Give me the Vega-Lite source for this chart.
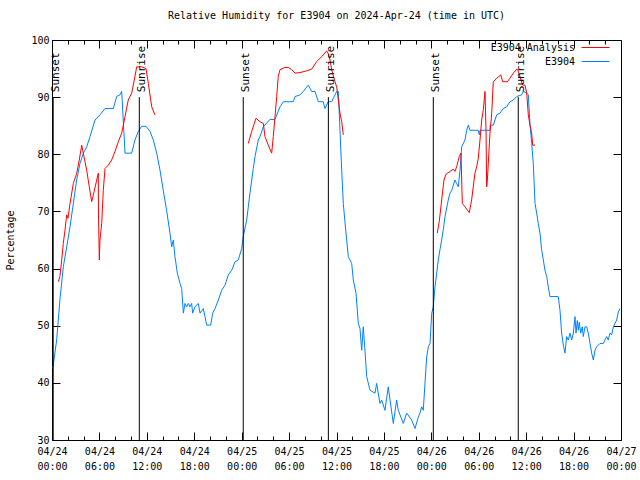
{
  "$schema": "https://vega.github.io/schema/vega-lite/v6.json",
  "width": 569,
  "height": 400,
  "autosize": {"type": "none"},
  "padding": {"left": 52, "top": 40, "right": 19, "bottom": 40},
  "background": "white",
  "title": {"text": "Relative Humidity for E3904 on 2024-Apr-24 (time in UTC)", "font": "DejaVu Sans Mono", "fontSize": 10, "fontWeight": "normal", "anchor": "middle", "offset": 14, "color": "black"},
  "config": {
    "view": {"stroke": "black", "strokeWidth": 1},
    "axis": {"labelFont": "DejaVu Sans Mono", "labelFontSize": 10, "titleFont": "DejaVu Sans Mono", "titleFontSize": 10, "titleFontWeight": "normal", "grid": false, "domain": false, "tickColor": "black", "labelColor": "black", "titleColor": "black", "tickWidth": 1}
  },
  "datasets": {
    "rh": [
      {"series": "E3904", "seg": 0, "t": 0.1, "rh": 42.5},
      {"series": "E3904", "seg": 0, "t": 0.59, "rh": 47.5},
      {"series": "E3904", "seg": 0, "t": 1.0, "rh": 54.5},
      {"series": "E3904", "seg": 0, "t": 1.43, "rh": 60.3},
      {"series": "E3904", "seg": 0, "t": 1.86, "rh": 63.8},
      {"series": "E3904", "seg": 0, "t": 2.28, "rh": 67.3},
      {"series": "E3904", "seg": 0, "t": 2.7, "rh": 71.4},
      {"series": "E3904", "seg": 0, "t": 3.12, "rh": 75.5},
      {"series": "E3904", "seg": 0, "t": 3.54, "rh": 78.4},
      {"series": "E3904", "seg": 0, "t": 3.97, "rh": 80.2},
      {"series": "E3904", "seg": 0, "t": 4.39, "rh": 81.3},
      {"series": "E3904", "seg": 0, "t": 4.81, "rh": 83.1},
      {"series": "E3904", "seg": 0, "t": 5.44, "rh": 86.0},
      {"series": "E3904", "seg": 0, "t": 6.07, "rh": 86.9},
      {"series": "E3904", "seg": 0, "t": 6.7, "rh": 88.0},
      {"series": "E3904", "seg": 0, "t": 7.76, "rh": 88.0},
      {"series": "E3904", "seg": 0, "t": 8.18, "rh": 90.1},
      {"series": "E3904", "seg": 0, "t": 8.6, "rh": 90.4},
      {"series": "E3904", "seg": 0, "t": 8.82, "rh": 91.0},
      {"series": "E3904", "seg": 0, "t": 9.24, "rh": 80.2},
      {"series": "E3904", "seg": 0, "t": 10.08, "rh": 80.2},
      {"series": "E3904", "seg": 0, "t": 10.5, "rh": 82.5},
      {"series": "E3904", "seg": 0, "t": 10.92, "rh": 84.0},
      {"series": "E3904", "seg": 0, "t": 11.35, "rh": 84.9},
      {"series": "E3904", "seg": 0, "t": 11.9, "rh": 84.9},
      {"series": "E3904", "seg": 0, "t": 12.4, "rh": 84.0},
      {"series": "E3904", "seg": 0, "t": 12.82, "rh": 82.5},
      {"series": "E3904", "seg": 0, "t": 13.25, "rh": 80.2},
      {"series": "E3904", "seg": 0, "t": 13.67, "rh": 77.2},
      {"series": "E3904", "seg": 0, "t": 14.08, "rh": 73.7},
      {"series": "E3904", "seg": 0, "t": 14.5, "rh": 70.2},
      {"series": "E3904", "seg": 0, "t": 14.93, "rh": 66.2},
      {"series": "E3904", "seg": 0, "t": 15.14, "rh": 63.8},
      {"series": "E3904", "seg": 0, "t": 15.35, "rh": 65.0},
      {"series": "E3904", "seg": 0, "t": 15.56, "rh": 62.1},
      {"series": "E3904", "seg": 0, "t": 15.86, "rh": 59.2},
      {"series": "E3904", "seg": 0, "t": 16.2, "rh": 57.4},
      {"series": "E3904", "seg": 0, "t": 16.41, "rh": 56.5},
      {"series": "E3904", "seg": 0, "t": 16.62, "rh": 52.2},
      {"series": "E3904", "seg": 0, "t": 16.83, "rh": 53.9},
      {"series": "E3904", "seg": 0, "t": 17.04, "rh": 53.3},
      {"series": "E3904", "seg": 0, "t": 17.25, "rh": 53.9},
      {"series": "E3904", "seg": 0, "t": 17.46, "rh": 53.3},
      {"series": "E3904", "seg": 0, "t": 17.67, "rh": 53.9},
      {"series": "E3904", "seg": 0, "t": 17.8, "rh": 52.2},
      {"series": "E3904", "seg": 0, "t": 18.09, "rh": 53.3},
      {"series": "E3904", "seg": 0, "t": 18.51, "rh": 53.9},
      {"series": "E3904", "seg": 0, "t": 18.73, "rh": 52.2},
      {"series": "E3904", "seg": 0, "t": 19.15, "rh": 53.0},
      {"series": "E3904", "seg": 0, "t": 19.36, "rh": 51.6},
      {"series": "E3904", "seg": 0, "t": 19.57, "rh": 50.1},
      {"series": "E3904", "seg": 0, "t": 20.08, "rh": 50.1},
      {"series": "E3904", "seg": 0, "t": 20.33, "rh": 52.2},
      {"series": "E3904", "seg": 0, "t": 20.63, "rh": 53.0},
      {"series": "E3904", "seg": 0, "t": 21.05, "rh": 54.5},
      {"series": "E3904", "seg": 0, "t": 21.47, "rh": 56.2},
      {"series": "E3904", "seg": 0, "t": 21.89, "rh": 57.1},
      {"series": "E3904", "seg": 0, "t": 22.31, "rh": 58.9},
      {"series": "E3904", "seg": 0, "t": 22.74, "rh": 59.7},
      {"series": "E3904", "seg": 0, "t": 23.16, "rh": 61.2},
      {"series": "E3904", "seg": 0, "t": 23.57, "rh": 61.5},
      {"series": "E3904", "seg": 0, "t": 24.0, "rh": 63.5},
      {"series": "E3904", "seg": 0, "t": 24.2, "rh": 65.6},
      {"series": "E3904", "seg": 0, "t": 24.64, "rh": 68.5},
      {"series": "E3904", "seg": 0, "t": 24.84, "rh": 70.8},
      {"series": "E3904", "seg": 0, "t": 25.05, "rh": 73.2},
      {"series": "E3904", "seg": 0, "t": 25.27, "rh": 75.5},
      {"series": "E3904", "seg": 0, "t": 25.47, "rh": 77.5},
      {"series": "E3904", "seg": 0, "t": 25.69, "rh": 79.6},
      {"series": "E3904", "seg": 0, "t": 26.1, "rh": 82.5},
      {"series": "E3904", "seg": 0, "t": 26.32, "rh": 83.1},
      {"series": "E3904", "seg": 0, "t": 26.74, "rh": 84.8},
      {"series": "E3904", "seg": 0, "t": 27.58, "rh": 86.1},
      {"series": "E3904", "seg": 0, "t": 28.22, "rh": 86.1},
      {"series": "E3904", "seg": 0, "t": 28.85, "rh": 88.3},
      {"series": "E3904", "seg": 0, "t": 29.27, "rh": 89.2},
      {"series": "E3904", "seg": 0, "t": 30.53, "rh": 89.2},
      {"series": "E3904", "seg": 0, "t": 30.75, "rh": 90.1},
      {"series": "E3904", "seg": 0, "t": 31.38, "rh": 90.4},
      {"series": "E3904", "seg": 0, "t": 31.8, "rh": 91.0},
      {"series": "E3904", "seg": 0, "t": 32.43, "rh": 92.1},
      {"series": "E3904", "seg": 0, "t": 32.86, "rh": 91.0},
      {"series": "E3904", "seg": 0, "t": 33.28, "rh": 91.0},
      {"series": "E3904", "seg": 0, "t": 33.7, "rh": 89.2},
      {"series": "E3904", "seg": 0, "t": 34.33, "rh": 89.2},
      {"series": "E3904", "seg": 0, "t": 34.54, "rh": 88.0},
      {"series": "E3904", "seg": 0, "t": 34.96, "rh": 89.2},
      {"series": "E3904", "seg": 0, "t": 35.39, "rh": 89.2},
      {"series": "E3904", "seg": 0, "t": 36.02, "rh": 91.0},
      {"series": "E3904", "seg": 0, "t": 36.23, "rh": 91.0},
      {"series": "E3904", "seg": 0, "t": 36.44, "rh": 84.2},
      {"series": "E3904", "seg": 0, "t": 36.66, "rh": 77.2},
      {"series": "E3904", "seg": 0, "t": 36.86, "rh": 71.4},
      {"series": "E3904", "seg": 0, "t": 37.08, "rh": 68.0},
      {"series": "E3904", "seg": 0, "t": 37.29, "rh": 65.0},
      {"series": "E3904", "seg": 0, "t": 37.49, "rh": 62.1},
      {"series": "E3904", "seg": 0, "t": 37.92, "rh": 60.9},
      {"series": "E3904", "seg": 0, "t": 38.13, "rh": 58.0},
      {"series": "E3904", "seg": 0, "t": 38.47, "rh": 55.7},
      {"series": "E3904", "seg": 0, "t": 38.76, "rh": 50.4},
      {"series": "E3904", "seg": 0, "t": 38.97, "rh": 49.5},
      {"series": "E3904", "seg": 0, "t": 39.19, "rh": 45.7},
      {"series": "E3904", "seg": 0, "t": 39.39, "rh": 49.8},
      {"series": "E3904", "seg": 0, "t": 39.6, "rh": 45.7},
      {"series": "E3904", "seg": 0, "t": 39.82, "rh": 41.1},
      {"series": "E3904", "seg": 0, "t": 40.24, "rh": 38.7},
      {"series": "E3904", "seg": 0, "t": 40.87, "rh": 38.2},
      {"series": "E3904", "seg": 0, "t": 41.08, "rh": 39.9},
      {"series": "E3904", "seg": 0, "t": 41.5, "rh": 36.4},
      {"series": "E3904", "seg": 0, "t": 41.71, "rh": 37.0},
      {"series": "E3904", "seg": 0, "t": 42.13, "rh": 35.2},
      {"series": "E3904", "seg": 0, "t": 42.55, "rh": 39.3},
      {"series": "E3904", "seg": 0, "t": 42.77, "rh": 37.0},
      {"series": "E3904", "seg": 0, "t": 43.19, "rh": 32.9},
      {"series": "E3904", "seg": 0, "t": 43.61, "rh": 37.0},
      {"series": "E3904", "seg": 0, "t": 43.82, "rh": 35.2},
      {"series": "E3904", "seg": 0, "t": 44.45, "rh": 32.9},
      {"series": "E3904", "seg": 0, "t": 44.88, "rh": 34.7},
      {"series": "E3904", "seg": 0, "t": 45.51, "rh": 33.5},
      {"series": "E3904", "seg": 0, "t": 45.93, "rh": 32.0},
      {"series": "E3904", "seg": 0, "t": 46.35, "rh": 34.0},
      {"series": "E3904", "seg": 0, "t": 46.56, "rh": 34.7},
      {"series": "E3904", "seg": 0, "t": 46.78, "rh": 35.8},
      {"series": "E3904", "seg": 0, "t": 46.98, "rh": 35.2},
      {"series": "E3904", "seg": 0, "t": 47.41, "rh": 44.5},
      {"series": "E3904", "seg": 0, "t": 47.62, "rh": 46.3},
      {"series": "E3904", "seg": 0, "t": 47.83, "rh": 46.9},
      {"series": "E3904", "seg": 0, "t": 48.05, "rh": 52.2},
      {"series": "E3904", "seg": 0, "t": 48.25, "rh": 53.3},
      {"series": "E3904", "seg": 0, "t": 48.46, "rh": 56.8},
      {"series": "E3904", "seg": 0, "t": 48.68, "rh": 59.2},
      {"series": "E3904", "seg": 0, "t": 48.88, "rh": 61.5},
      {"series": "E3904", "seg": 0, "t": 49.09, "rh": 63.3},
      {"series": "E3904", "seg": 0, "t": 49.31, "rh": 65.0},
      {"series": "E3904", "seg": 0, "t": 49.51, "rh": 66.8},
      {"series": "E3904", "seg": 0, "t": 49.73, "rh": 69.1},
      {"series": "E3904", "seg": 0, "t": 50.14, "rh": 72.0},
      {"series": "E3904", "seg": 0, "t": 50.36, "rh": 73.2},
      {"series": "E3904", "seg": 0, "t": 50.58, "rh": 73.7},
      {"series": "E3904", "seg": 0, "t": 50.99, "rh": 75.5},
      {"series": "E3904", "seg": 0, "t": 51.2, "rh": 74.9},
      {"series": "E3904", "seg": 0, "t": 51.41, "rh": 74.3},
      {"series": "E3904", "seg": 0, "t": 51.63, "rh": 77.2},
      {"series": "E3904", "seg": 0, "t": 51.84, "rh": 81.3},
      {"series": "E3904", "seg": 0, "t": 52.26, "rh": 82.5},
      {"series": "E3904", "seg": 0, "t": 52.47, "rh": 84.2},
      {"series": "E3904", "seg": 0, "t": 52.68, "rh": 85.1},
      {"series": "E3904", "seg": 0, "t": 52.89, "rh": 84.2},
      {"series": "E3904", "seg": 0, "t": 53.94, "rh": 84.2},
      {"series": "E3904", "seg": 0, "t": 54.07, "rh": 83.4},
      {"series": "E3904", "seg": 0, "t": 54.16, "rh": 84.2},
      {"series": "E3904", "seg": 0, "t": 55.42, "rh": 84.2},
      {"series": "E3904", "seg": 0, "t": 55.45, "rh": 85.1},
      {"series": "E3904", "seg": 0, "t": 55.84, "rh": 85.1},
      {"series": "E3904", "seg": 0, "t": 56.27, "rh": 86.9},
      {"series": "E3904", "seg": 0, "t": 56.69, "rh": 87.2},
      {"series": "E3904", "seg": 0, "t": 57.1, "rh": 88.0},
      {"series": "E3904", "seg": 0, "t": 57.53, "rh": 88.3},
      {"series": "E3904", "seg": 0, "t": 57.95, "rh": 89.2},
      {"series": "E3904", "seg": 0, "t": 58.37, "rh": 89.5},
      {"series": "E3904", "seg": 0, "t": 58.8, "rh": 90.1},
      {"series": "E3904", "seg": 0, "t": 59.43, "rh": 90.4},
      {"series": "E3904", "seg": 0, "t": 59.64, "rh": 91.0},
      {"series": "E3904", "seg": 0, "t": 60.07, "rh": 90.7},
      {"series": "E3904", "seg": 0, "t": 60.27, "rh": 90.4},
      {"series": "E3904", "seg": 0, "t": 60.48, "rh": 85.4},
      {"series": "E3904", "seg": 0, "t": 60.7, "rh": 81.9},
      {"series": "E3904", "seg": 0, "t": 60.9, "rh": 78.4},
      {"series": "E3904", "seg": 0, "t": 61.12, "rh": 71.4},
      {"series": "E3904", "seg": 0, "t": 61.33, "rh": 69.7},
      {"series": "E3904", "seg": 0, "t": 61.53, "rh": 67.9},
      {"series": "E3904", "seg": 0, "t": 61.75, "rh": 66.2},
      {"series": "E3904", "seg": 0, "t": 61.96, "rh": 63.3},
      {"series": "E3904", "seg": 0, "t": 62.17, "rh": 61.5},
      {"series": "E3904", "seg": 0, "t": 62.38, "rh": 59.7},
      {"series": "E3904", "seg": 0, "t": 62.6, "rh": 58.6},
      {"series": "E3904", "seg": 0, "t": 62.8, "rh": 56.8},
      {"series": "E3904", "seg": 0, "t": 63.01, "rh": 55.1},
      {"series": "E3904", "seg": 0, "t": 64.06, "rh": 55.1},
      {"series": "E3904", "seg": 0, "t": 64.28, "rh": 52.7},
      {"series": "E3904", "seg": 0, "t": 64.49, "rh": 48.7},
      {"series": "E3904", "seg": 0, "t": 64.7, "rh": 46.6},
      {"series": "E3904", "seg": 0, "t": 64.91, "rh": 45.2},
      {"series": "E3904", "seg": 0, "t": 65.12, "rh": 48.1},
      {"series": "E3904", "seg": 0, "t": 65.33, "rh": 47.5},
      {"series": "E3904", "seg": 0, "t": 65.55, "rh": 48.7},
      {"series": "E3904", "seg": 0, "t": 65.76, "rh": 47.5},
      {"series": "E3904", "seg": 0, "t": 65.97, "rh": 48.7},
      {"series": "E3904", "seg": 0, "t": 66.18, "rh": 51.6},
      {"series": "E3904", "seg": 0, "t": 66.31, "rh": 48.7},
      {"series": "E3904", "seg": 0, "t": 66.47, "rh": 50.9},
      {"series": "E3904", "seg": 0, "t": 66.6, "rh": 49.2},
      {"series": "E3904", "seg": 0, "t": 66.72, "rh": 50.6},
      {"series": "E3904", "seg": 0, "t": 66.9, "rh": 48.7},
      {"series": "E3904", "seg": 0, "t": 67.1, "rh": 49.8},
      {"series": "E3904", "seg": 0, "t": 67.23, "rh": 48.1},
      {"series": "E3904", "seg": 0, "t": 67.44, "rh": 49.8},
      {"series": "E3904", "seg": 0, "t": 67.66, "rh": 49.8},
      {"series": "E3904", "seg": 0, "t": 67.86, "rh": 48.7},
      {"series": "E3904", "seg": 0, "t": 68.08, "rh": 46.9},
      {"series": "E3904", "seg": 0, "t": 68.29, "rh": 45.2},
      {"series": "E3904", "seg": 0, "t": 68.5, "rh": 44.0},
      {"series": "E3904", "seg": 0, "t": 68.71, "rh": 45.7},
      {"series": "E3904", "seg": 0, "t": 68.92, "rh": 46.3},
      {"series": "E3904", "seg": 0, "t": 69.34, "rh": 46.9},
      {"series": "E3904", "seg": 0, "t": 69.76, "rh": 46.9},
      {"series": "E3904", "seg": 0, "t": 70.18, "rh": 48.1},
      {"series": "E3904", "seg": 0, "t": 70.39, "rh": 47.5},
      {"series": "E3904", "seg": 0, "t": 70.6, "rh": 48.7},
      {"series": "E3904", "seg": 0, "t": 70.82, "rh": 48.4},
      {"series": "E3904", "seg": 0, "t": 71.03, "rh": 49.8},
      {"series": "E3904", "seg": 0, "t": 71.45, "rh": 51.0},
      {"series": "E3904", "seg": 0, "t": 71.66, "rh": 52.4},
      {"series": "E3904", "seg": 0, "t": 71.87, "rh": 53.0},
      {"series": "E3904 Analysis", "seg": 1, "t": 0.8, "rh": 57.7},
      {"series": "E3904 Analysis", "seg": 1, "t": 1.0, "rh": 58.6},
      {"series": "E3904 Analysis", "seg": 1, "t": 1.23, "rh": 61.5},
      {"series": "E3904 Analysis", "seg": 1, "t": 1.43, "rh": 64.4},
      {"series": "E3904 Analysis", "seg": 1, "t": 1.64, "rh": 66.7},
      {"series": "E3904 Analysis", "seg": 1, "t": 1.86, "rh": 69.4},
      {"series": "E3904 Analysis", "seg": 1, "t": 2.02, "rh": 68.8},
      {"series": "E3904 Analysis", "seg": 1, "t": 2.28, "rh": 71.4},
      {"series": "E3904 Analysis", "seg": 1, "t": 2.7, "rh": 74.9},
      {"series": "E3904 Analysis", "seg": 1, "t": 3.13, "rh": 76.7},
      {"series": "E3904 Analysis", "seg": 1, "t": 3.45, "rh": 79.0},
      {"series": "E3904 Analysis", "seg": 1, "t": 3.76, "rh": 81.6},
      {"series": "E3904 Analysis", "seg": 1, "t": 3.96, "rh": 80.2},
      {"series": "E3904 Analysis", "seg": 1, "t": 4.39, "rh": 77.2},
      {"series": "E3904 Analysis", "seg": 1, "t": 4.72, "rh": 74.3},
      {"series": "E3904 Analysis", "seg": 1, "t": 5.02, "rh": 71.7},
      {"series": "E3904 Analysis", "seg": 1, "t": 5.23, "rh": 72.9},
      {"series": "E3904 Analysis", "seg": 1, "t": 5.66, "rh": 75.5},
      {"series": "E3904 Analysis", "seg": 1, "t": 5.86, "rh": 76.7},
      {"series": "E3904 Analysis", "seg": 1, "t": 5.88, "rh": 69.7},
      {"series": "E3904 Analysis", "seg": 1, "t": 5.99, "rh": 61.5},
      {"series": "E3904 Analysis", "seg": 1, "t": 6.07, "rh": 65.0},
      {"series": "E3904 Analysis", "seg": 1, "t": 6.29, "rh": 67.9},
      {"series": "E3904 Analysis", "seg": 1, "t": 6.49, "rh": 73.7},
      {"series": "E3904 Analysis", "seg": 1, "t": 6.71, "rh": 77.5},
      {"series": "E3904 Analysis", "seg": 1, "t": 7.12, "rh": 78.1},
      {"series": "E3904 Analysis", "seg": 1, "t": 7.55, "rh": 79.0},
      {"series": "E3904 Analysis", "seg": 1, "t": 7.97, "rh": 80.5},
      {"series": "E3904 Analysis", "seg": 1, "t": 8.39, "rh": 82.2},
      {"series": "E3904 Analysis", "seg": 1, "t": 8.82, "rh": 83.7},
      {"series": "E3904 Analysis", "seg": 1, "t": 9.24, "rh": 86.6},
      {"series": "E3904 Analysis", "seg": 1, "t": 9.65, "rh": 89.5},
      {"series": "E3904 Analysis", "seg": 1, "t": 10.08, "rh": 90.7},
      {"series": "E3904 Analysis", "seg": 1, "t": 10.41, "rh": 93.0},
      {"series": "E3904 Analysis", "seg": 1, "t": 10.72, "rh": 95.3},
      {"series": "E3904 Analysis", "seg": 1, "t": 11.35, "rh": 95.3},
      {"series": "E3904 Analysis", "seg": 1, "t": 11.89, "rh": 95.0},
      {"series": "E3904 Analysis", "seg": 1, "t": 12.19, "rh": 92.4},
      {"series": "E3904 Analysis", "seg": 1, "t": 12.62, "rh": 88.3},
      {"series": "E3904 Analysis", "seg": 1, "t": 13.03, "rh": 86.9},
      {"series": "E3904 Analysis", "seg": 2, "t": 24.84, "rh": 81.9},
      {"series": "E3904 Analysis", "seg": 2, "t": 25.27, "rh": 84.0},
      {"series": "E3904 Analysis", "seg": 2, "t": 25.81, "rh": 86.3},
      {"series": "E3904 Analysis", "seg": 2, "t": 26.32, "rh": 85.7},
      {"series": "E3904 Analysis", "seg": 2, "t": 26.74, "rh": 85.4},
      {"series": "E3904 Analysis", "seg": 2, "t": 26.95, "rh": 83.1},
      {"series": "E3904 Analysis", "seg": 2, "t": 27.37, "rh": 81.6},
      {"series": "E3904 Analysis", "seg": 2, "t": 27.8, "rh": 80.2},
      {"series": "E3904 Analysis", "seg": 2, "t": 28.0, "rh": 83.1},
      {"series": "E3904 Analysis", "seg": 2, "t": 28.22, "rh": 86.6},
      {"series": "E3904 Analysis", "seg": 2, "t": 28.43, "rh": 90.1},
      {"series": "E3904 Analysis", "seg": 2, "t": 28.63, "rh": 93.6},
      {"series": "E3904 Analysis", "seg": 2, "t": 28.85, "rh": 94.8},
      {"series": "E3904 Analysis", "seg": 2, "t": 29.48, "rh": 95.2},
      {"series": "E3904 Analysis", "seg": 2, "t": 29.9, "rh": 95.2},
      {"series": "E3904 Analysis", "seg": 2, "t": 30.33, "rh": 94.8},
      {"series": "E3904 Analysis", "seg": 2, "t": 30.75, "rh": 94.2},
      {"series": "E3904 Analysis", "seg": 2, "t": 31.38, "rh": 94.3},
      {"series": "E3904 Analysis", "seg": 2, "t": 32.23, "rh": 94.6},
      {"series": "E3904 Analysis", "seg": 2, "t": 32.86, "rh": 94.9},
      {"series": "E3904 Analysis", "seg": 2, "t": 33.49, "rh": 96.2},
      {"series": "E3904 Analysis", "seg": 2, "t": 34.13, "rh": 97.1},
      {"series": "E3904 Analysis", "seg": 2, "t": 34.76, "rh": 98.1},
      {"series": "E3904 Analysis", "seg": 2, "t": 34.96, "rh": 97.6},
      {"series": "E3904 Analysis", "seg": 2, "t": 35.18, "rh": 96.5},
      {"series": "E3904 Analysis", "seg": 2, "t": 35.39, "rh": 94.8},
      {"series": "E3904 Analysis", "seg": 2, "t": 35.81, "rh": 92.7},
      {"series": "E3904 Analysis", "seg": 2, "t": 36.02, "rh": 91.8},
      {"series": "E3904 Analysis", "seg": 2, "t": 36.23, "rh": 89.5},
      {"series": "E3904 Analysis", "seg": 2, "t": 36.44, "rh": 87.2},
      {"series": "E3904 Analysis", "seg": 2, "t": 36.66, "rh": 85.7},
      {"series": "E3904 Analysis", "seg": 2, "t": 36.86, "rh": 83.4},
      {"series": "E3904 Analysis", "seg": 3, "t": 48.75, "rh": 66.2},
      {"series": "E3904 Analysis", "seg": 3, "t": 49.0, "rh": 68.2},
      {"series": "E3904 Analysis", "seg": 3, "t": 49.31, "rh": 72.0},
      {"series": "E3904 Analysis", "seg": 3, "t": 49.6, "rh": 75.5},
      {"series": "E3904 Analysis", "seg": 3, "t": 49.85, "rh": 76.5},
      {"series": "E3904 Analysis", "seg": 3, "t": 50.36, "rh": 77.0},
      {"series": "E3904 Analysis", "seg": 3, "t": 50.78, "rh": 77.4},
      {"series": "E3904 Analysis", "seg": 3, "t": 50.99, "rh": 77.0},
      {"series": "E3904 Analysis", "seg": 3, "t": 51.2, "rh": 77.8},
      {"series": "E3904 Analysis", "seg": 3, "t": 51.54, "rh": 79.6},
      {"series": "E3904 Analysis", "seg": 3, "t": 51.75, "rh": 80.2},
      {"series": "E3904 Analysis", "seg": 3, "t": 51.92, "rh": 71.4},
      {"series": "E3904 Analysis", "seg": 3, "t": 52.26, "rh": 70.8},
      {"series": "E3904 Analysis", "seg": 3, "t": 52.8, "rh": 69.8},
      {"series": "E3904 Analysis", "seg": 3, "t": 53.1, "rh": 72.0},
      {"series": "E3904 Analysis", "seg": 3, "t": 53.52, "rh": 76.7},
      {"series": "E3904 Analysis", "seg": 3, "t": 53.74, "rh": 77.8},
      {"series": "E3904 Analysis", "seg": 3, "t": 53.94, "rh": 79.3},
      {"series": "E3904 Analysis", "seg": 3, "t": 54.16, "rh": 82.5},
      {"series": "E3904 Analysis", "seg": 3, "t": 54.37, "rh": 86.0},
      {"series": "E3904 Analysis", "seg": 3, "t": 54.58, "rh": 87.8},
      {"series": "E3904 Analysis", "seg": 3, "t": 54.79, "rh": 91.0},
      {"series": "E3904 Analysis", "seg": 3, "t": 54.92, "rh": 84.2},
      {"series": "E3904 Analysis", "seg": 3, "t": 55.0, "rh": 74.3},
      {"series": "E3904 Analysis", "seg": 3, "t": 55.08, "rh": 75.3},
      {"series": "E3904 Analysis", "seg": 3, "t": 55.21, "rh": 78.4},
      {"series": "E3904 Analysis", "seg": 3, "t": 55.42, "rh": 83.7},
      {"series": "E3904 Analysis", "seg": 3, "t": 55.64, "rh": 87.2},
      {"series": "E3904 Analysis", "seg": 3, "t": 55.84, "rh": 92.7},
      {"series": "E3904 Analysis", "seg": 3, "t": 56.27, "rh": 93.3},
      {"series": "E3904 Analysis", "seg": 3, "t": 56.78, "rh": 93.9},
      {"series": "E3904 Analysis", "seg": 3, "t": 57.03, "rh": 92.7},
      {"series": "E3904 Analysis", "seg": 3, "t": 57.61, "rh": 92.7},
      {"series": "E3904 Analysis", "seg": 3, "t": 57.95, "rh": 93.3},
      {"series": "E3904 Analysis", "seg": 3, "t": 58.37, "rh": 94.2},
      {"series": "E3904 Analysis", "seg": 3, "t": 58.8, "rh": 94.9},
      {"series": "E3904 Analysis", "seg": 3, "t": 58.93, "rh": 94.8},
      {"series": "E3904 Analysis", "seg": 3, "t": 59.22, "rh": 93.6},
      {"series": "E3904 Analysis", "seg": 3, "t": 59.56, "rh": 92.1},
      {"series": "E3904 Analysis", "seg": 3, "t": 59.85, "rh": 92.1},
      {"series": "E3904 Analysis", "seg": 3, "t": 60.07, "rh": 90.7},
      {"series": "E3904 Analysis", "seg": 3, "t": 60.27, "rh": 86.9},
      {"series": "E3904 Analysis", "seg": 3, "t": 60.48, "rh": 85.1},
      {"series": "E3904 Analysis", "seg": 3, "t": 60.7, "rh": 83.7},
      {"series": "E3904 Analysis", "seg": 3, "t": 60.82, "rh": 81.6},
      {"series": "E3904 Analysis", "seg": 3, "t": 61.12, "rh": 81.6}
    ],
    "events": [
      {"t": 0.15, "label": "Sunset"},
      {"t": 11.05, "label": "Sunrise"},
      {"t": 24.2, "label": "Sunset"},
      {"t": 34.97, "label": "Sunrise"},
      {"t": 48.25, "label": "Sunset"},
      {"t": 59.0, "label": "Sunrise"}
    ]
  },
  "resolve": {"axis": {"x": "independent", "y": "independent"}},
  "layer": [
    {
      "data": {"name": "rh"},
      "mark": {"type": "line", "strokeWidth": 1},
      "encoding": {
        "x": {"field": "t", "type": "quantitative", "scale": {"domain": [0, 72], "nice": false, "zero": false},
          "axis": {"orient": "bottom", "title": null, "values": [0, 6, 12, 18, 24, 30, 36, 42, 48, 54, 60, 66, 72], "ticks": false, "labelPadding": 6, "labelFlush": false, "labelOverlap": false, "labelLineHeight": 15, "labelBaseline": "top",
            "labelExpr": "['04/' + (24 + floor(datum.value / 24)), (datum.value % 24 < 10 ? '0' : '') + (datum.value % 24) + ':00']"}},
        "y": {"field": "rh", "type": "quantitative", "scale": {"domain": [30, 100], "nice": false, "zero": false},
          "axis": {"orient": "left", "title": "Percentage", "values": [30, 40, 50, 60, 70, 80, 90, 100], "ticks": false, "labelPadding": 3, "labelFlush": false, "labelOverlap": false, "titleAngle": -90, "titleAlign": "center", "titleBaseline": "middle", "titleX": -42, "titleY": 200}},
        "color": {"field": "series", "type": "nominal", "scale": {"domain": ["E3904 Analysis", "E3904"], "range": ["#ff0000", "#0080ff"]},
          "legend": {"orient": "none", "legendX": 538, "legendY": 2, "title": null, "padding": 0, "symbolType": "M-3,0H3", "symbolSize": 87, "symbolStrokeWidth": 1, "symbolFillColor": "transparent", "labelAlign": "right", "labelOffset": -26, "labelFont": "DejaVu Sans Mono", "labelFontSize": 10, "labelColor": "black", "rowPadding": 3}},
        "detail": {"field": "seg", "type": "nominal"}
      }
    },
    {
      "data": {"name": "events"},
      "mark": {"type": "rule", "color": "black", "strokeWidth": 1},
      "encoding": {
        "x": {"field": "t", "type": "quantitative", "axis": {"orient": "bottom", "title": null, "labels": false, "values": [0, 6, 12, 18, 24, 30, 36, 42, 48, 54, 60, 66, 72], "tickSize": 8, "offset": -8}},
        "y": {"datum": 30, "type": "quantitative", "axis": {"orient": "left", "title": null, "labels": false, "values": [30, 40, 50, 60, 70, 80, 90, 100], "tickSize": 8, "offset": -8}},
        "y2": {"datum": 90}
      }
    },
    {
      "data": {"name": "events"},
      "mark": {"type": "text", "angle": 270, "align": "left", "baseline": "alphabetic", "dx": 5, "dy": 6, "font": "DejaVu Sans Mono", "fontSize": 11, "color": "black"},
      "encoding": {
        "x": {"field": "t", "type": "quantitative", "axis": {"orient": "bottom", "title": null, "labels": false, "values": [2, 4, 8, 10, 14, 16, 20, 22, 26, 28, 32, 34, 38, 40, 44, 46, 50, 52, 56, 58, 62, 64, 68, 70], "tickSize": 4, "offset": -4}},
        "y": {"datum": 90, "type": "quantitative", "axis": {"orient": "right", "title": null, "labels": false, "values": [30, 40, 50, 60, 70, 80, 90, 100], "tickSize": 8, "offset": -8}},
        "text": {"field": "label"}
      }
    },
    {
      "data": {"name": "events"},
      "mark": {"type": "point", "opacity": 0},
      "encoding": {
        "x": {"field": "t", "type": "quantitative", "axis": {"orient": "top", "title": null, "labels": false, "values": [0, 6, 12, 18, 24, 30, 36, 42, 48, 54, 60, 66, 72], "tickSize": 8, "offset": -8}},
        "y": {"datum": 90, "type": "quantitative", "axis": null}
      }
    },
    {
      "data": {"name": "events"},
      "mark": {"type": "point", "opacity": 0},
      "encoding": {
        "x": {"field": "t", "type": "quantitative", "axis": {"orient": "top", "title": null, "labels": false, "values": [2, 4, 8, 10, 14, 16, 20, 22, 26, 28, 32, 34, 38, 40, 44, 46, 50, 52, 56, 58, 62, 64, 68, 70], "tickSize": 4, "offset": -4}},
        "y": {"datum": 90, "type": "quantitative", "axis": null}
      }
    }
  ]
}
